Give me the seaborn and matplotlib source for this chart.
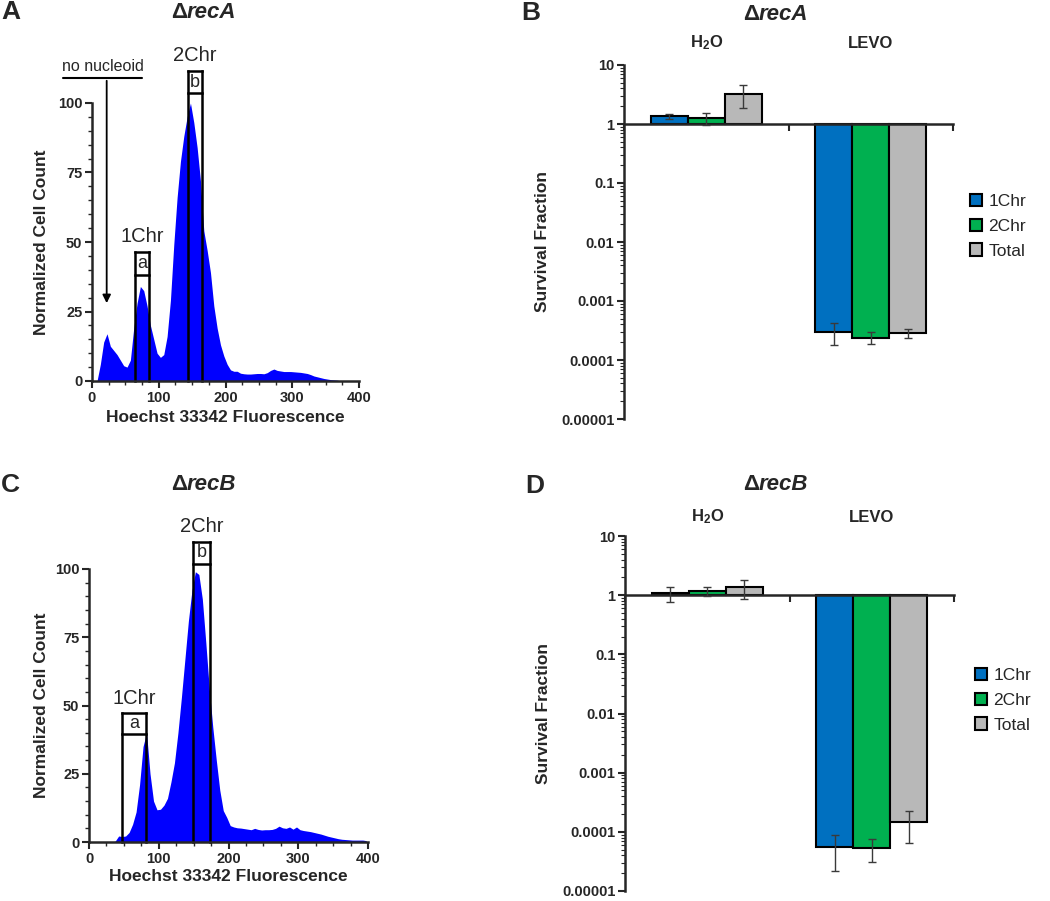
import numpy as np
import matplotlib
matplotlib.use("Agg")
import matplotlib.pyplot as plt
from matplotlib.patches import Patch
import seaborn as sns

# ---- data ----
# histogram heights, one value per 5-unit bin of Hoechst fluorescence (0..400)
bin_centers = np.arange(2.5, 400, 5)

recA_counts = [0, 0, 6, 14, 17, 12.5, 11, 9.5, 7.5, 5.5,
               5, 7.5, 19, 28, 34, 32.5, 27, 20, 15, 10,
               8.5, 9.5, 16, 29, 49, 66, 79, 88, 95, 100,
               93, 84, 72, 54, 47, 39, 27, 19, 13, 9,
               6, 4, 3.5, 3.5, 2.8, 2.6, 2.5, 2.5, 2.6, 2.7,
               2.7, 2.6, 3, 3.8, 4.3, 3.8, 3.6, 3.4, 3.4, 3.4,
               3.3, 3.2, 3.1, 2.9, 2.7, 2.3, 1.8, 1.5, 1.2, 0.9,
               0.7, 0.5, 0.4, 0.3, 0, 0, 0, 0, 0, 0]

recB_counts = [0, 0, 0, 0, 0, 0, 0, 0.3, 2.2, 2,
               2.2, 3.5, 6.5, 11, 21, 35, 40, 25, 15, 11.8,
               12, 13.5, 16, 22, 29, 40, 53, 67, 81, 92,
               99, 98, 89, 73, 56, 42, 30, 19, 11.5, 9,
               6, 5.5, 5.2, 5.1, 4.9, 4.7, 4.5, 5, 4.6, 4.4,
               4.5, 4.5, 4.6, 5, 5.8, 5.2, 5, 5.5, 4.7, 5.5,
               4.5, 4.2, 4, 3.8, 3.5, 3.2, 2.9, 2.5, 2.1, 1.8,
               1.5, 1.2, 1.0, 0.9, 0.8, 0.7, 0.7, 0.7, 0.7, 0.5]

# gates: (label, letter, x_left, x_right, box top, divider)
recA_gates = [("1Chr", "a", 64.4, 85, 46.4, 38.0),
              ("2Chr", "b", 143.8, 164.8, 111.5, 103.6)]
recB_gates = [("1Chr", "a", 47.3, 82.2, 47.2, 39.5),
              ("2Chr", "b", 149, 173.5, 110, 101.8)]

# survival fractions
treatments = ["H$_\\mathbf{2}$O", "LEVO"]
series = ["1Chr", "2Chr", "Total"]
colors = ["#0070C0", "#00B050", "#B8B8B8"]

recA_surv = {"1Chr": [1.35, 0.00030], "2Chr": [1.25, 0.00024], "Total": [3.2, 0.00029]}
recA_err = {"1Chr": [0.14, 0.00012], "2Chr": [0.29, 0.000055], "Total": [1.3, 0.00005]}
recB_surv = {"1Chr": [1.08, 0.0000545], "2Chr": [1.18, 0.000053], "Total": [1.35, 0.000145]}
recB_err = {"1Chr": [0.3, 0.000033], "2Chr": [0.2, 0.000022], "Total": [0.48, 0.00008]}

# ---- style ----
sns.set_style("ticks")
plt.rcParams["font.family"] = ["Liberation Sans", "DejaVu Sans"]
plt.rcParams["mathtext.fontset"] = "custom"
plt.rcParams["mathtext.rm"] = "Liberation Sans"
plt.rcParams["mathtext.bf"] = "Liberation Sans:bold"

W, H = 1050, 901
fig = plt.figure(figsize=(W / 100, H / 100), dpi=100)


def px(x, y):
    return x / W, 1 - y / H


def axes_px(l, t, r, b):
    return fig.add_axes([l / W, 1 - b / H, (r - l) / W, (b - t) / H])


def title(x_split, y, gene):
    fig.text(*px(x_split, y), "Δ", ha="right", va="center", fontsize=16, fontweight="bold")
    fig.text(*px(x_split, y), gene, ha="left", va="center", fontsize=16,
             fontweight="bold", fontstyle="italic")


def hist_panel(ax, counts, gates, nucleoid=False):
    sns.histplot(x=bin_centers, weights=counts, binwidth=5, binrange=(0, 400),
                 element="poly", fill=True, color="#0000FF", alpha=1, linewidth=0, ax=ax)
    ax.set_xlim(0, 400)
    ax.set_ylim(0, 100)
    ax.set_xticks([0, 100, 200, 300, 400])
    ax.set_xticks(np.arange(0, 401, 25), minor=True)
    ax.set_yticks([0, 25, 50, 75, 100])
    ax.set_yticks(np.arange(0, 101, 5), minor=True)
    ax.tick_params(which="major", length=5, width=1.5, labelsize=10.5, pad=2)
    ax.tick_params(which="minor", length=3, width=1)
    for lab in ax.get_xticklabels() + ax.get_yticklabels():
        lab.set_fontweight("bold")
    for s in ["left", "bottom"]:
        ax.spines[s].set_linewidth(1.8)
    sns.despine(ax=ax)
    ax.set_xlabel("Hoechst 33342 Fluorescence", fontsize=12.5, fontweight="bold")
    ax.set_ylabel("Normalized Cell Count", fontsize=12.5, fontweight="bold")
    for name, letter, x0, x1, top, mid in gates:
        kw = dict(color="black", lw=1.8, clip_on=False, solid_capstyle="projecting")
        ax.plot([x0, x0], [0, top], **kw)
        ax.plot([x1, x1], [0, top], **kw)
        ax.plot([x0, x1], [top, top], **kw)
        ax.plot([x0, x1], [mid, mid], **kw)
        ax.text((x0 + x1) / 2, (top + mid) / 2, letter, ha="center", va="center",
                fontsize=13, clip_on=False)
        ax.text((x0 + x1) / 2, top + 2, name, ha="center", va="bottom",
                fontsize=14.5, clip_on=False)
    if nucleoid:
        ax.plot([-43, 75], [109, 109], color="black", lw=1.5, clip_on=False)
        ax.annotate("", xy=(22, 27), xytext=(22, 109),
                    arrowprops=dict(arrowstyle="-|>", color="black", lw=1.3,
                                    mutation_scale=12), annotation_clip=False)
        ax.text(16, 110.5, "no nucleoid", ha="center", va="bottom", fontsize=11.5)


def bar_panel(ax, surv, err, cat_y, leg_xy):
    width = 0.225
    for i, s in enumerate(series):
        xs = np.arange(len(treatments)) + 0.5 + (i - 1) * width
        vals = np.array(surv[s])
        ax.bar(xs, vals - 1, bottom=1, width=width, color=colors[i],
               edgecolor="black", linewidth=1.5, zorder=2)
        ax.errorbar(xs, vals, yerr=err[s], fmt="none", ecolor="#3a3a3a",
                    elinewidth=1, capsize=3, capthick=1, zorder=3)
    ax.set_yscale("log")
    ax.set_ylim(1e-5, 10)
    ax.set_xlim(0, 2)
    ax.set_yticks([1e-5, 1e-4, 1e-3, 1e-2, 1e-1, 1, 10])
    ax.set_yticklabels(["0.00001", "0.0001", "0.001", "0.01", "0.1", "1", "10"])
    ax.set_xticks([0, 1, 2])
    ax.set_xticklabels([])
    ax.spines["bottom"].set_position(("data", 1))
    ax.spines["top"].set_visible(False)
    ax.spines["right"].set_visible(False)
    ax.spines["left"].set_linewidth(1.8)
    ax.spines["bottom"].set_linewidth(1.8)
    ax.tick_params(axis="y", which="major", length=5, width=1.5, labelsize=10.5, pad=2)
    ax.tick_params(axis="y", which="minor", length=3, width=0.8)
    ax.tick_params(axis="x", length=5, width=1.5)
    for lab in ax.get_yticklabels():
        lab.set_fontweight("bold")
    ax.set_ylabel("Survival Fraction", fontsize=12.5, fontweight="bold")
    for j, t in enumerate(treatments):
        x_fig = ax.transData.transform((j + 0.5, 1))[0] / W
        fig.text(x_fig, 1 - cat_y / H, r"$\mathbf{" + t.replace("$", "") + "}$" if j == 0 else t,
                 ha="center", va="center", fontsize=12, fontweight="bold")
    handles = [Patch(facecolor=c, edgecolor="black", linewidth=1.5) for c in colors]
    fig.legend(handles, series, loc="upper left", bbox_to_anchor=px(*leg_xy),
               frameon=False, fontsize=12.5, handlelength=0.7, handleheight=0.7,
               handletextpad=0.35, labelspacing=0.55, borderpad=0, borderaxespad=0)


# ---- panel A ----
axA = axes_px(92, 103, 359, 381)
hist_panel(axA, recA_counts, recA_gates, nucleoid=True)
axA.xaxis.set_label_coords(0.5, -0.105)
axA.yaxis.set_label_coords(-0.161, 0.5)

# ---- panel C ----
axC = axes_px(89, 569, 368, 842)
hist_panel(axC, recB_counts, recB_gates)
axC.xaxis.set_label_coords(0.5, -0.1)
axC.yaxis.set_label_coords(-0.143, 0.5)

# ---- panel B ----
axB = axes_px(624, 65, 953, 419)
bar_panel(axB, recA_surv, recA_err, 43, (970, 194))
axB.yaxis.set_label_coords(-0.225, 0.5)

# ---- panel D ----
axD = axes_px(625, 536, 954, 891)
bar_panel(axD, recB_surv, recB_err, 517, (975, 668))
axD.yaxis.set_label_coords(-0.225, 0.5)

# panel letters and titles
for letter, x, y in [("A", 1, 12), ("B", 521, 13), ("C", 1, 485), ("D", 525, 486)]:
    fig.text(*px(x, y), letter, ha="left", va="center", fontsize=19, fontweight="bold")
title(187, 12, "recA")
title(759, 14, "recA")
title(187, 484, "recB")
title(759, 485, "recB")

fig.savefig("out.png", dpi=100)
